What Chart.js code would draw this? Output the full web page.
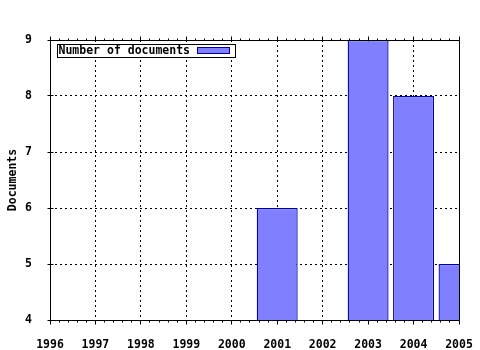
<!DOCTYPE html>
<html>
<head>
<meta charset="utf-8">
<script src="https://cdn.jsdelivr.net/npm/chart.js@4"></script>
<style>
  html, body { margin: 0; padding: 0; background: #fff; }
  #wrap { width: 480px; height: 350px; position: relative; }
</style>
</head>
<body>
<div id="wrap"><canvas id="c"></canvas></div>
<script>
const years = [2001, 2003, 2004, 2005];
const documents = [6, 9, 8, 5];
const seriesLabel = 'Number of documents';
const xTickLabels = ['1996', '1997', '1998', '1999', '2000', '2001', '2002', '2003', '2004', '2005'];
const yTickLabels = ['4', '5', '6', '7', '8', '9'];
const yTitle = 'Documents';

const FONT = '"DejaVu Sans Mono", "Liberation Mono", monospace';

const framePlugin = {
  id: 'frame',
  beforeDatasetsDraw(chart) {
    const {ctx, chartArea: a, scales: {x, y}} = chart;
    ctx.save();
    ctx.strokeStyle = '#000';
    ctx.lineWidth = 1;
    ctx.setLineDash([2, 3]);
    ctx.beginPath();
    x.ticks.forEach(t => {
      if (t.value > x.min && t.value < x.max) {
        const px = Math.floor(x.getPixelForValue(t.value)) + 0.5;
        ctx.moveTo(px, a.top); ctx.lineTo(px, a.bottom);
      }
    });
    y.ticks.forEach(t => {
      if (t.value > y.min && t.value < y.max) {
        const py = Math.floor(y.getPixelForValue(t.value)) + 0.5;
        ctx.moveTo(a.left, py); ctx.lineTo(a.right, py);
      }
    });
    ctx.stroke();
    ctx.restore();
  },
  afterDatasetsDraw(chart) {
    const {ctx, chartArea: a, scales: {x, y}} = chart;
    const L = Math.floor(a.left) + 0.5, R = Math.floor(a.right) + 0.5;
    const T = Math.floor(a.top) + 0.5, B = Math.floor(a.bottom) + 0.5;
    ctx.save();
    ctx.strokeStyle = '#000';
    ctx.lineWidth = 1;
    ctx.setLineDash([]);
    ctx.beginPath();
    ctx.rect(L, T, R - L, B - T);
    const minorStep = 0.2;
    const n = Math.round((x.max - x.min) / minorStep);
    for (let k = 0; k <= n; k++) {
      const v = x.min + k * minorStep;
      const major = k % 5 === 0;
      const px = Math.floor(x.getPixelForValue(v) + 0.0001) + 0.5;
      const len = major ? 4 : 2;
      ctx.moveTo(px, B); ctx.lineTo(px, B + len);
      ctx.moveTo(px, T); ctx.lineTo(px, T - len);
    }
    y.ticks.forEach(t => {
      const py = Math.floor(y.getPixelForValue(t.value)) + 0.5;
      ctx.moveTo(L - 3, py); ctx.lineTo(L + 3, py);
    });
    ctx.stroke();

    const ds = chart.data.datasets[0];
    ctx.font = 'bold 11.5px ' + FONT;
    const tw = ctx.measureText(ds.label).width;
    const bx = L + 7, by = T + 4;
    const bw = Math.round(tw + 46), bh = 13;
    ctx.fillStyle = '#fff';
    ctx.fillRect(bx, by, bw, bh);
    ctx.strokeRect(bx, by, bw, bh);
    ctx.fillStyle = '#000';
    ctx.textBaseline = 'middle';
    ctx.textAlign = 'left';
    ctx.fillText(ds.label, bx + 1, by + bh / 2 + 0.5);
    const sx = bx + bw - 38, sy = by + 3;
    ctx.fillStyle = ds.backgroundColor;
    ctx.fillRect(sx, sy, 32, 6);
    ctx.strokeStyle = ds.borderColor;
    ctx.strokeRect(sx, sy, 32, 6);
    ctx.restore();
  }
};

new Chart(document.getElementById('c'), {
  type: 'bar',
  data: {
    datasets: [{
      label: seriesLabel,
      data: years.map((yr, i) => ({x: yr, y: documents[i]})),
      backgroundColor: '#8080ff',
      borderColor: '#0000a8',
      borderWidth: 1.3,
      inflateAmount: 0,
      barPercentage: 0.9,
      categoryPercentage: 1.0
    }]
  },
  options: {
    responsive: true,
    maintainAspectRatio: false,
    animation: false,
    layout: { autoPadding: false, padding: { left: 0, right: 21, top: 40, bottom: 0 } },
    plugins: { legend: { display: false }, tooltip: { enabled: false } },
    scales: {
      x: {
        type: 'linear',
        min: 1996, max: 2005,
        offset: false,
        grid: { display: false },
        border: { display: false },
        ticks: {
          stepSize: 1, autoSkip: false, maxRotation: 0, padding: 10,
          color: '#000', font: { family: FONT, size: 11.5, weight: 'bold' },
          callback: (v, i) => xTickLabels[i]
        },
        afterFit: s => { s.height = 30; s.paddingLeft = 0; s.paddingRight = 0; }
      },
      y: {
        min: 4, max: 9,
        grid: { display: false },
        border: { display: false },
        ticks: {
          stepSize: 1, padding: 10,
          color: '#000', font: { family: FONT, size: 11.5, weight: 'bold' },
          callback: (v, i) => yTickLabels[i]
        },
        title: {
          display: true, text: yTitle, color: '#000',
          font: { family: FONT, size: 11.5, weight: 'bold' },
          padding: { top: 6, bottom: 0 }
        },
        afterFit: s => { s.width = 50; s.paddingTop = 0; s.paddingBottom = 0; }
      }
    }
  },
  plugins: [framePlugin]
});
</script>
</body>
</html>
